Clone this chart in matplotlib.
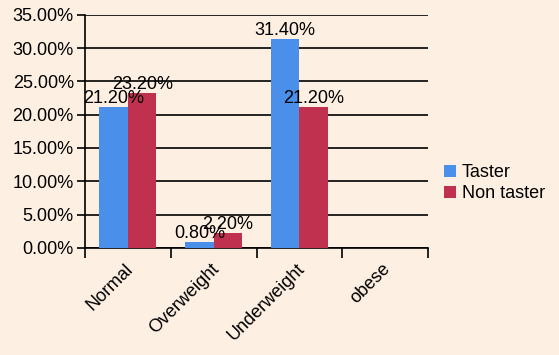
import numpy as np
import matplotlib.pyplot as plt
from matplotlib.ticker import FuncFormatter

categories = ["Normal", "Overweight", "Underweight", "obese"]
taster = [21.2, 0.8, 31.4, 0.0]
non_taster = [23.2, 2.2, 21.2, 0.0]
series_names = ["Taster", "Non taster"]

bg = "#fdf0e2"
blue = "#4a8fe9"
red = "#c0304f"
fs = 13

plt.rcParams["font.family"] = ["Liberation Sans", "DejaVu Sans"]
plt.rcParams["font.size"] = fs

fig = plt.figure(figsize=(5.59, 3.55), dpi=100, facecolor=bg)
ax = fig.add_axes([0.152, 0.302, 0.614, 0.656], facecolor=bg)

x = np.arange(len(categories))
w = 1 / 3
b1 = ax.bar(x - w / 2, taster, w, color=blue, label=series_names[0], zorder=3)
b2 = ax.bar(x + w / 2, non_taster, w, color=red, label=series_names[1], zorder=3)

# value labels sit right on top of each bar (they overlap, as in the original)
for bars, vals in [(b1, taster), (b2, non_taster)]:
    for rect, v in zip(bars, vals):
        if v == 0:
            continue
        ax.annotate(f"{v:.2f}%", (rect.get_x() + rect.get_width() / 2, v),
                    xytext=(0, 0), textcoords="offset points",
                    ha="center", va="bottom", fontsize=fs, zorder=4)

ax.set_ylim(0, 35)
ax.set_yticks(np.arange(0, 36, 5))
ax.yaxis.set_major_formatter(FuncFormatter(lambda v, p: f"{v:.2f}%"))
ax.set_xlim(-0.5, len(categories) - 0.5)
ax.set_xticks(np.arange(-0.5, len(categories), 1))
ax.set_xticklabels([])
ax.set_xticks(x - 0.04, minor=True)
ax.set_xticklabels(categories, minor=True, rotation=45, ha="right",
                   rotation_mode="anchor", fontsize=fs)
ax.tick_params(axis="x", which="minor", length=0, pad=9)
ax.tick_params(axis="x", which="major", length=7, width=1.2, color="black")
ax.tick_params(axis="y", length=6, width=1.2, pad=2, labelsize=fs)

ax.grid(axis="y", color="black", linewidth=1.2, zorder=1)
for s in ["top", "right"]:
    ax.spines[s].set_visible(False)
for s in ["left", "bottom"]:
    ax.spines[s].set_linewidth(1.2)

fig.legend(handles=[b1, b2], labels=series_names, loc="center left",
           bbox_to_anchor=(0.779, 0.484), frameon=False,
           handlelength=0.65, handleheight=0.65, handletextpad=0.3,
           labelspacing=0.2, borderpad=0, fontsize=fs)

fig.savefig("out.png", dpi=100, facecolor=bg)
